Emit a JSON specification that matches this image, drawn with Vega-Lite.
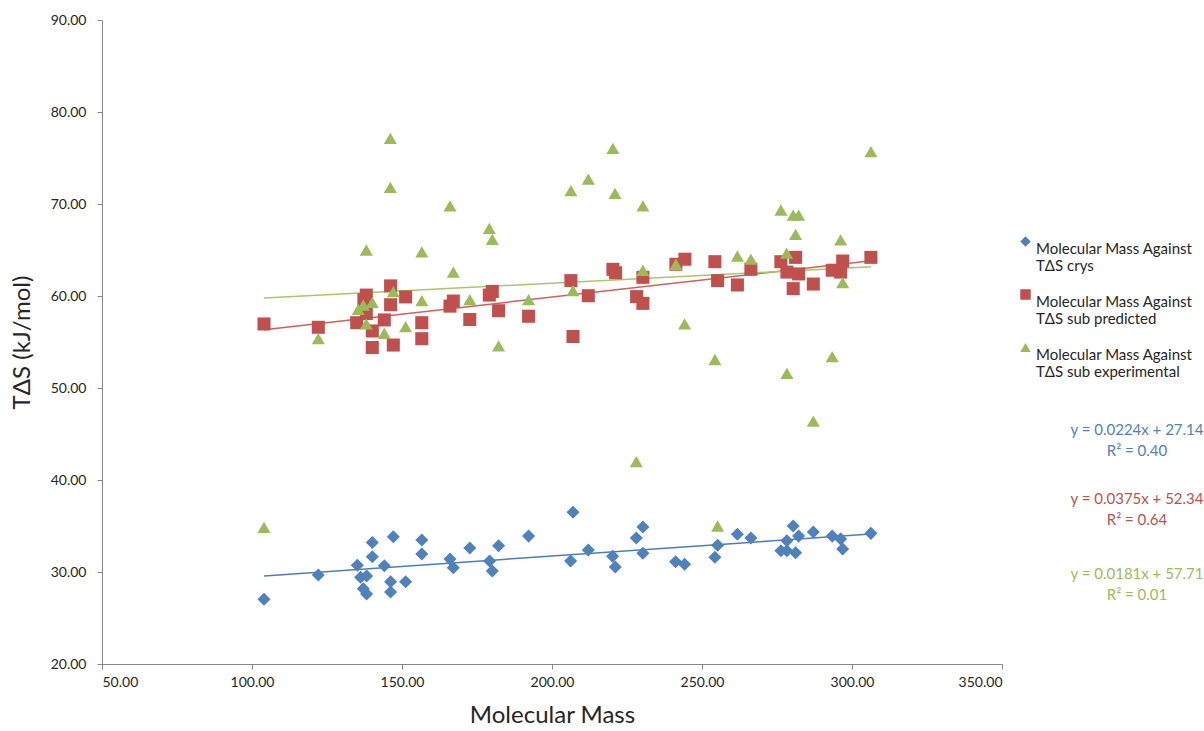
{
  "$schema": "https://vega.github.io/schema/vega-lite/v6.json",
  "width": 900,
  "height": 644,
  "autosize": {"type": "none"},
  "padding": {"left": 102, "top": 20, "right": 202, "bottom": 67},
  "background": "white",
  "config": {
    "view": {"stroke": null},
    "font": "Lato",
    "axis": {"grid": false, "domainColor": "#868686", "tickColor": "#868686", "labelColor": "#262626", "titleColor": "#262626", "labelFont": "Lato", "titleFont": "Lato", "labelFontSize": 14, "titleFontSize": 24, "titleFontWeight": "normal", "tickSize": 5}
  },
  "datasets": {
    "pts": [
      {"m":104,"t":27.03,"series":"crys"},{"m":122.1,"t":29.67,"series":"crys"},{"m":135.1,"t":30.73,"series":"crys"},{"m":136.2,"t":29.42,"series":"crys"},{"m":138.2,"t":29.57,"series":"crys"},{"m":137.1,"t":28.18,"series":"crys"},{"m":138.2,"t":27.6,"series":"crys"},{"m":140.1,"t":33.2,"series":"crys"},{"m":140.1,"t":31.66,"series":"crys"},{"m":144.1,"t":30.68,"series":"crys"},{"m":147.1,"t":33.84,"series":"crys"},{"m":146.2,"t":28.95,"series":"crys"},{"m":146.2,"t":27.83,"series":"crys"},{"m":151.2,"t":28.95,"series":"crys"},{"m":156.6,"t":33.48,"series":"crys"},{"m":156.6,"t":31.96,"series":"crys"},{"m":166,"t":31.4,"series":"crys"},{"m":167.1,"t":30.47,"series":"crys"},{"m":172.6,"t":32.6,"series":"crys"},{"m":179.2,"t":31.2,"series":"crys"},{"m":180.1,"t":30.1,"series":"crys"},{"m":182.2,"t":32.86,"series":"crys"},{"m":192.2,"t":33.9,"series":"crys"},{"m":207,"t":36.5,"series":"crys"},{"m":206.2,"t":31.2,"series":"crys"},{"m":212.1,"t":32.4,"series":"crys"},{"m":220.2,"t":31.7,"series":"crys"},{"m":221.1,"t":30.54,"series":"crys"},{"m":228.1,"t":33.7,"series":"crys"},{"m":230.3,"t":34.9,"series":"crys"},{"m":230.3,"t":32.03,"series":"crys"},{"m":241.2,"t":31.12,"series":"crys"},{"m":244.2,"t":30.84,"series":"crys"},{"m":254.3,"t":31.6,"series":"crys"},{"m":255.2,"t":32.9,"series":"crys"},{"m":261.8,"t":34.1,"series":"crys"},{"m":266.3,"t":33.7,"series":"crys"},{"m":276.3,"t":32.3,"series":"crys"},{"m":278.3,"t":33.4,"series":"crys"},{"m":278.3,"t":32.3,"series":"crys"},{"m":280.4,"t":35.0,"series":"crys"},{"m":282.2,"t":33.9,"series":"crys"},{"m":281.2,"t":32.1,"series":"crys"},{"m":287.1,"t":34.35,"series":"crys"},{"m":293.4,"t":33.9,"series":"crys"},{"m":296.2,"t":33.6,"series":"crys"},{"m":296.9,"t":32.5,"series":"crys"},{"m":306.3,"t":34.2,"series":"crys"},
      {"m":104,"t":56.96,"series":"pred"},{"m":122.1,"t":56.6,"series":"pred"},{"m":134.9,"t":57.1,"series":"pred"},{"m":138.1,"t":60.1,"series":"pred"},{"m":137.3,"t":59.6,"series":"pred"},{"m":138.1,"t":58.1,"series":"pred"},{"m":140.1,"t":56.2,"series":"pred"},{"m":140.1,"t":54.4,"series":"pred"},{"m":144.1,"t":57.4,"series":"pred"},{"m":146.2,"t":61.1,"series":"pred"},{"m":146.2,"t":59.05,"series":"pred"},{"m":147.1,"t":54.67,"series":"pred"},{"m":151.2,"t":59.9,"series":"pred"},{"m":156.6,"t":57.1,"series":"pred"},{"m":156.6,"t":55.36,"series":"pred"},{"m":166,"t":58.9,"series":"pred"},{"m":167.1,"t":59.45,"series":"pred"},{"m":172.6,"t":57.45,"series":"pred"},{"m":179.1,"t":60.1,"series":"pred"},{"m":180.1,"t":60.5,"series":"pred"},{"m":182.2,"t":58.4,"series":"pred"},{"m":192.2,"t":57.8,"series":"pred"},{"m":206.3,"t":61.67,"series":"pred"},{"m":220.3,"t":62.9,"series":"pred"},{"m":221.2,"t":62.53,"series":"pred"},{"m":230.3,"t":62.03,"series":"pred"},{"m":212.1,"t":60.03,"series":"pred"},{"m":228.2,"t":59.93,"series":"pred"},{"m":230.3,"t":59.2,"series":"pred"},{"m":207,"t":55.6,"series":"pred"},{"m":241.3,"t":63.45,"series":"pred"},{"m":244.3,"t":64.0,"series":"pred"},{"m":254.3,"t":63.73,"series":"pred"},{"m":255.2,"t":61.67,"series":"pred"},{"m":261.8,"t":61.2,"series":"pred"},{"m":266.3,"t":62.9,"series":"pred"},{"m":276.3,"t":63.73,"series":"pred"},{"m":281.2,"t":64.2,"series":"pred"},{"m":278.3,"t":62.6,"series":"pred"},{"m":282.2,"t":62.4,"series":"pred"},{"m":280.4,"t":60.8,"series":"pred"},{"m":287.1,"t":61.3,"series":"pred"},{"m":293.4,"t":62.8,"series":"pred"},{"m":296.9,"t":63.8,"series":"pred"},{"m":296.2,"t":62.6,"series":"pred"},{"m":306.3,"t":64.2,"series":"pred"},
      {"m":146.1,"t":77.14,"series":"exp"},{"m":146.1,"t":71.8,"series":"exp"},{"m":166,"t":69.8,"series":"exp"},{"m":179.1,"t":67.35,"series":"exp"},{"m":180.1,"t":66.15,"series":"exp"},{"m":138.1,"t":65.0,"series":"exp"},{"m":156.6,"t":64.8,"series":"exp"},{"m":167.1,"t":62.6,"series":"exp"},{"m":147.1,"t":60.47,"series":"exp"},{"m":156.6,"t":59.5,"series":"exp"},{"m":172.6,"t":59.6,"series":"exp"},{"m":192.2,"t":59.6,"series":"exp"},{"m":140.1,"t":59.3,"series":"exp"},{"m":137.1,"t":59.0,"series":"exp"},{"m":135.4,"t":58.55,"series":"exp"},{"m":138.1,"t":56.96,"series":"exp"},{"m":144.1,"t":55.95,"series":"exp"},{"m":151.2,"t":56.66,"series":"exp"},{"m":122.1,"t":55.36,"series":"exp"},{"m":182.2,"t":54.57,"series":"exp"},
      {"m":220.3,"t":76.05,"series":"exp"},{"m":212.1,"t":72.7,"series":"exp"},{"m":206.3,"t":71.45,"series":"exp"},{"m":221,"t":71.16,"series":"exp"},{"m":230.3,"t":69.8,"series":"exp"},{"m":306.3,"t":75.7,"series":"exp"},{"m":276.3,"t":69.35,"series":"exp"},{"m":280.4,"t":68.8,"series":"exp"},{"m":282.2,"t":68.8,"series":"exp"},{"m":281.2,"t":66.7,"series":"exp"},{"m":296.2,"t":66.1,"series":"exp"},{"m":261.8,"t":64.35,"series":"exp"},{"m":266.3,"t":64.0,"series":"exp"},{"m":278.2,"t":64.65,"series":"exp"},{"m":241.3,"t":63.45,"series":"exp"},{"m":230.3,"t":62.8,"series":"exp"},{"m":207,"t":60.6,"series":"exp"},{"m":296.9,"t":61.45,"series":"exp"},{"m":244.2,"t":56.96,"series":"exp"},{"m":254.3,"t":53.1,"series":"exp"},{"m":293.4,"t":53.4,"series":"exp"},{"m":278.3,"t":51.6,"series":"exp"},{"m":228.1,"t":42.0,"series":"exp"},{"m":287.1,"t":46.4,"series":"exp"},{"m":255.2,"t":35.0,"series":"exp"},{"m":104,"t":34.86,"series":"exp"}
    ],
    "eqs": [
      {"m":395,"t":45.4,"k":"e1","label":"y = 0.0224x + 27.14\nR² = 0.40"},
      {"m":395,"t":37.9,"k":"e2","label":"y = 0.0375x + 52.34\nR² = 0.64"},
      {"m":395,"t":29.8,"k":"e3","label":"y = 0.0181x + 57.71\nR² = 0.01"}
    ]
  },
  "layer": [
    {
      "data": {"name": "pts"},
      "transform": [{"filter": "datum.series == 'crys'"}, {"regression": "t", "on": "m"}],
      "mark": {"type": "line", "strokeWidth": 1.5, "color": "#4A7EBB"},
      "encoding": {
        "x": {"field": "m", "type": "quantitative", "scale": {"domain": [50, 350], "nice": false, "zero": false}},
        "y": {"field": "t", "type": "quantitative", "scale": {"domain": [20, 90], "nice": false, "zero": false}}
      }
    },
    {
      "data": {"name": "pts"},
      "transform": [{"filter": "datum.series == 'pred'"}, {"regression": "t", "on": "m"}],
      "mark": {"type": "line", "strokeWidth": 1.5, "color": "#D0605C"},
      "encoding": {
        "x": {"field": "m", "type": "quantitative"},
        "y": {"field": "t", "type": "quantitative"}
      }
    },
    {
      "data": {"name": "pts"},
      "transform": [{"filter": "datum.series == 'exp'"}, {"regression": "t", "on": "m"}],
      "mark": {"type": "line", "strokeWidth": 1.5, "color": "#A6C86A"},
      "encoding": {
        "x": {"field": "m", "type": "quantitative"},
        "y": {"field": "t", "type": "quantitative"}
      }
    },
    {
      "data": {"name": "pts"},
      "mark": {"type": "point", "filled": true, "opacity": 1, "size": 170},
      "encoding": {
        "x": {"field": "m", "type": "quantitative", "scale": {"domain": [50, 350], "nice": false, "zero": false},
              "axis": {"title": "Molecular Mass", "values": [50,100,150,200,250,300,350], "format": ".2f", "labelPadding": 6, "titlePadding": 14}},
        "y": {"field": "t", "type": "quantitative", "scale": {"domain": [20, 90], "nice": false, "zero": false},
              "axis": {"title": "TΔS (kJ/mol)", "values": [20,30,40,50,60,70,80,90], "format": ".2f", "labelPadding": 11, "titlePadding": 16, "titleFontSize": 24}},
        "color": {"field": "series", "type": "nominal",
          "scale": {"domain": ["crys", "pred", "exp"], "range": ["#4F81BD", "#C0504D", "#9BBB59"]},
          "legend": {"title": null, "orient": "none", "legendX": 916, "legendY": 214,
            "labelExpr": "datum.label == 'crys' ? ['Molecular Mass Against', 'TΔS crys'] : datum.label == 'pred' ? ['Molecular Mass Against', 'TΔS sub predicted'] : ['Molecular Mass Against', 'TΔS sub experimental']",
            "labelFontSize": 15, "labelColor": "#262626", "labelLimit": 300, "rowPadding": 13, "symbolSize": 110, "labelBaseline": "top", "labelOffset": 3,
            "encode": {"labels": {"update": {"lineHeight": {"value": 21}}}}}},
        "shape": {"field": "series", "type": "nominal",
          "scale": {"domain": ["crys", "pred", "exp"], "range": ["diamond", "square", "triangle-up"]}}
      }
    },
    {
      "data": {"name": "eqs"},
      "mark": {"type": "text", "align": "center", "baseline": "middle", "fontSize": 15, "font": "Lato", "lineBreak": "\n", "lineHeight": 21, "clip": false},
      "encoding": {
        "x": {"field": "m", "type": "quantitative"},
        "y": {"field": "t", "type": "quantitative"},
        "text": {"field": "label"},
        "fill": {"field": "k", "type": "nominal", "scale": {"domain": ["e1", "e2", "e3"], "range": ["#4F81BD", "#C0504D", "#9BBB59"]}, "legend": null}
      }
    }
  ]
}
